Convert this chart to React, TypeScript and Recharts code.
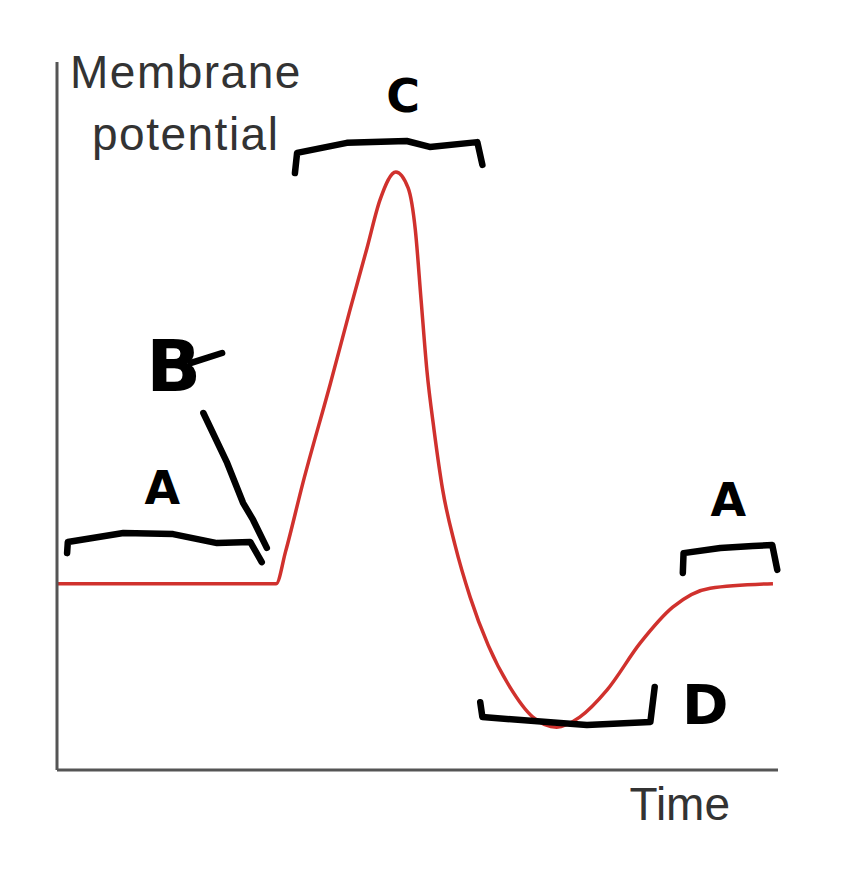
import { LineChart, Line, XAxis, YAxis, ReferenceDot } from "recharts";

// time in ms, membrane potential in mV
const spikeTime = [0, 3.04, 3.17, 3.41, 3.79, 4.06, 4.3, 4.48, 4.7, 4.87, 4.97, 5.05, 5.13, 5.23, 5.35, 5.52, 5.73, 5.98, 6.28, 6.6, 6.93, 7.25, 7.63, 8.09, 8.54, 9.06, 9.93];
const spikeMv = [-70, -70, -61.4, -43, -16.4, 3.2, 20.1, 33, 40.5, 36.2, 24.9, 6.1, -12.7, -28.8, -44.9, -59.6, -73.6, -86.5, -97.7, -105.8, -108.5, -105.8, -98.5, -85.9, -76.3, -71.2, -70];

// hand drawn brackets
const bracketA1T = [0.14, 0.15, 0.92, 1.61, 2.22, 2.68, 2.84];
const bracketA1V = [-61.8, -58.8, -56.4, -56.7, -59.1, -58.8, -64.2];
const strokeBT = [2.03, 2.36, 2.58, 2.72, 2.91];
const strokeBV = [-24.2, -37.6, -48.3, -52.9, -60.4];
const tailBT = [1.85, 2.29];
const tailBV = [-10.8, -8.1];
const bracketCT = [3.3, 3.33, 4.02, 4.85, 5.17, 5.83, 5.9];
const bracketCV = [40.2, 45.6, 48.3, 48.8, 47.2, 48.5, 42.4];
const bracketDT = [5.87, 5.9, 6.98, 7.35, 8.23, 8.29];
const bracketDV = [-101.8, -105.8, -107.4, -107.9, -107.1, -97.7];
const bracketA2T = [8.68, 8.69, 9.2, 9.65, 9.92, 9.99];
const bracketA2V = [-67.1, -61.8, -60.4, -59.9, -59.6, -66.3];

const letters = ["C", "B", "A", "A", "D"];
const letterT = [4.8, 1.62, 1.46, 9.31, 8.99];
const letterV = [61.1, -11.3, -44.3, -47.5, -102.3];
const letterSize = [46, 72, 46, 46, 56];

const toRows = (ts: number[], vs: number[]) => ts.map((t, i) => ({ t, v: vs[i] }));

const spike = toRows(spikeTime, spikeMv);
const strokes = [
  toRows(bracketA1T, bracketA1V),
  toRows(strokeBT, strokeBV),
  toRows(tailBT, tailBV),
  toRows(bracketCT, bracketCV),
  toRows(bracketDT, bracketDV),
  toRows(bracketA2T, bracketA2V),
];

const axisFont = "'Liberation Sans', Arial, sans-serif";

export default function App() {
  return (
    <div style={{ position: "absolute", left: 0, top: 0, background: "#fff" }}>
      <LineChart width={868} height={869} data={spike} margin={{ top: 62, right: 90, left: 56, bottom: 98 }}>
        <XAxis
          type="number"
          dataKey="t"
          domain={[0, 10]}
          height={1}
          tick={false}
          tickLine={false}
          axisLine={{ stroke: "#555", strokeWidth: 3 }}
          label={{
            content: (p: any) => {
              const vb = p.viewBox || { x: 57, y: 770, width: 721 };
              return (
                <text x={vb.x + vb.width - 48} y={vb.y + 50} textAnchor="end" fontSize={46} fontFamily={axisFont} fill="#333">
                  Time
                </text>
              );
            },
          }}
        />
        <YAxis
          type="number"
          dataKey="v"
          domain={[-120, 70]}
          width={1}
          tick={false}
          tickLine={false}
          axisLine={{ stroke: "#555", strokeWidth: 3 }}
          label={{
            content: (p: any) => {
              const vb = p.viewBox || { x: 56, y: 62, width: 1 };
              return (
                <g fontSize={46} fontFamily={axisFont} fill="#333" letterSpacing={1.5}>
                  <text x={vb.x + vb.width + 13} y={vb.y + 26}>Membrane</text>
                  <text x={vb.x + vb.width + 35} y={vb.y + 88}>potential</text>
                </g>
              );
            },
          }}
        />
        <Line
          dataKey="v"
          type="monotone"
          stroke="#d0312d"
          strokeWidth={3.5}
          dot={false}
          isAnimationActive={false}
        />
        {strokes.map((d, i) => (
          <Line
            key={i}
            data={d}
            dataKey="v"
            type="linear"
            stroke="#000"
            strokeWidth={6.5}
            strokeLinecap="round"
            strokeLinejoin="round"
            dot={false}
            activeDot={false}
            isAnimationActive={false}
          />
        ))}
        {letters.map((s, i) => (
          <ReferenceDot
            key={"l" + i}
            x={letterT[i]}
            y={letterV[i]}
            r={0}
            shape={(p: any) => (
              <text
                x={p.cx}
                y={p.cy + letterSize[i] * 0.36}
                textAnchor="middle"
                fontSize={letterSize[i]}
                fontWeight="bold"
                fontFamily="'DejaVu Sans', sans-serif"
                fill="#000"
              >
                {s}
              </text>
            )}
          />
        ))}
      </LineChart>
    </div>
  );
}
